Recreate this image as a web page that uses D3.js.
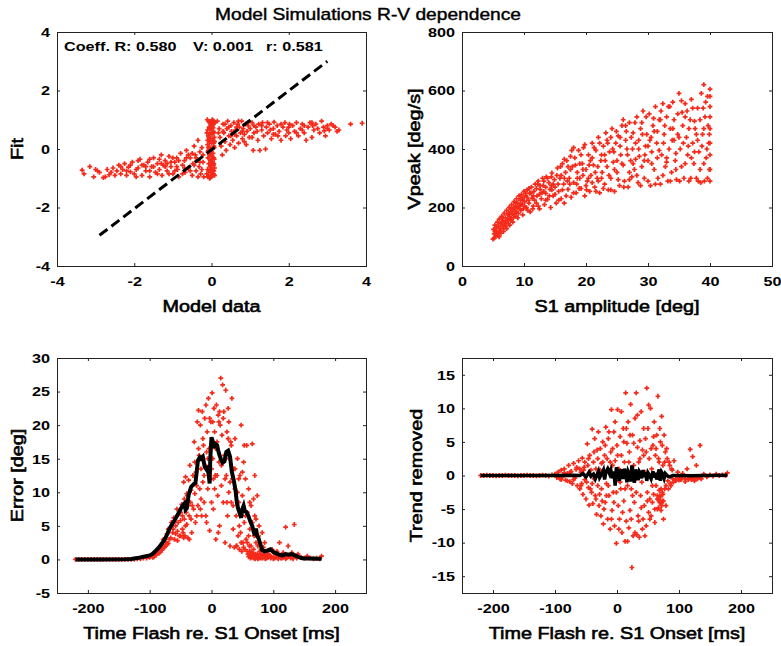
<!DOCTYPE html>
<html>
<head>
<meta charset="utf-8">
<script src="https://d3js.org/d3.v7.min.js"></script>
<style>
body { margin: 0; background: #fff; }
text { font-family: "Liberation Sans", Arial, Helvetica, sans-serif; fill: #000; }
</style>
</head>
<body>
<div id="fig"></div>
<script>
var W = 781, H = 646;
var red = '#f52a1a';
var stretch = 1.2; // glyphs in the source are wider than Liberation Sans

// ---- top left: model data vs fit ----
var fitTicks = [-4, -2, 0, 2, 4];
var fitLine = [[-2.9, -2.95], [3.0, 3.0]];
var fitPts = [
	[-3.35,-0.72],[-3.3,-0.85],[-3.15,-0.6],[-3.05,-0.95],[-2.95,-0.75],[-2.9,-0.8],[-2.8,-0.98],[-2.75,-0.95],
	[-2.6,-0.8],[-2.55,-0.65],[-2.5,-0.9],[-2.45,-0.75],[-2.4,-0.55],[-2.35,-0.85],[-2.3,-0.7],[-2.25,-0.5],
	[-2.2,-0.9],[-2.15,-0.62],[-2.1,-0.78],[-2.05,-0.45],[-2.0,-0.85],[-1.95,-0.95],[-1.9,-0.65],[-1.85,-0.35],
	[-1.8,-0.9],[-1.75,-0.55],[-1.7,-0.75],[-1.65,-0.45],[-1.6,-0.95],[-1.55,-0.6],[-1.5,-0.3],[-1.45,-0.8],
	[-1.4,-0.5],[-1.35,-0.7],[-1.3,-0.2],[-1.28,-0.9],[-1.25,-0.55],[-1.2,-0.4],[-1.15,-0.75],[-1.1,-0.25],
	[-1.05,-0.6],[-1.0,-0.85],[-0.95,-0.45],[-0.9,-0.3],[-0.88,-0.7],[-0.85,-0.95],[-0.8,-0.15],[-0.75,-0.55],
	[-0.7,-0.4],[-0.68,-0.8],[-0.65,-0.05],[-0.6,-0.65],[-0.55,-0.3],[-0.5,-0.9],[-0.48,-0.5],[-0.45,0.1],
	[-0.42,-0.2],[-0.4,-0.75],[-0.38,-0.4],[-0.35,0.3],[-0.32,-0.6],[-0.3,-0.1],[-0.28,-0.85],[-0.25,0.05],
	[-0.22,-0.45],[-0.2,-0.95],[-1.6,-0.35],[-1.2,-0.6],[-2.7,-0.7],[-1.9,-0.4],[-1.4,-0.85],[-0.6,-0.2],
	[-1.0,-0.3],[-0.9,-0.6],[-0.75,-0.85],[-1.7,-0.6],[-2.1,-0.55],[-1.3,-0.5],[-1.05,-0.45],[-0.55,-0.75],
	[-0.45,-0.55],[-0.35,-0.95],[-0.3,-0.45],
	[-3.0,-0.7],[-2.65,-0.88],[-2.35,-0.6],[-2.2,-0.75],[-1.95,-0.7],[-1.8,-0.55],[-1.6,-0.75],[-1.5,-0.6],
	[-1.35,-0.35],[-1.15,-0.5],[-1.1,-0.85],[-0.95,-0.75],[-0.85,-0.4],[-0.7,-0.65],[-0.65,-0.3],[-0.5,-0.15],
	[-0.4,-0.3],[-0.25,-0.7],[-0.22,-0.2],
	[-0.05,-1.0],[0.0,-0.95],[-0.08,-0.9],[0.03,-0.85],[-0.02,-0.8],[0.06,-0.75],[-0.1,-0.7],[0.0,-0.65],
	[-0.04,-0.6],[0.05,-0.55],[-0.07,-0.5],[0.02,-0.45],[-0.03,-0.4],[0.07,-0.35],[-0.09,-0.3],[0.01,-0.25],
	[-0.05,-0.2],[0.04,-0.15],[-0.01,-0.1],[-0.08,-0.05],[0.03,0.0],[-0.04,0.05],[0.06,0.1],[-0.1,0.15],
	[0.0,0.2],[-0.06,0.25],[0.04,0.3],[-0.02,0.35],[0.07,0.4],[-0.08,0.45],[0.01,0.5],[-0.04,0.55],
	[0.05,0.6],[-0.1,0.65],[0.0,0.7],[-0.06,0.75],[0.03,0.8],[-0.02,0.85],[0.08,0.9],[-0.07,0.95],
	[0.02,1.0],[-0.11,1.0],[0.05,0.97],[-0.03,-0.98],[0.06,-0.5],[-0.06,-0.15],[0.04,0.72],[-0.1,0.3],
	[0.0,-0.35],[0.07,0.05],[-0.05,0.9],[0.02,-0.7],[-0.12,-0.85],[0.08,-0.9],[-0.12,0.55],[0.08,0.25],
	[-0.1,-0.95],[0.05,-0.85],[-0.07,-0.75],[0.08,-0.65],[-0.03,-0.55],[0.06,-0.3],[-0.09,-0.1],[0.05,0.2],
	[-0.07,0.4],[0.06,0.55],[-0.04,0.7],[0.05,0.85],[-0.08,0.05],[0.01,0.95],[-0.01,-0.5],
	[0.15,0.95],[0.2,0.7],[0.22,0.4],[0.25,0.1],[0.28,-0.2],[0.3,0.85],[0.32,0.55],[0.35,0.25],
	[0.38,-0.05],[0.4,0.7],[0.42,0.95],[0.45,0.45],[0.48,0.15],[0.5,0.8],[0.52,0.6],[0.55,0.3],
	[0.58,0.9],[0.6,0.05],[0.62,0.65],[0.65,0.45],[0.68,0.85],[0.7,0.2],[0.72,0.75],[0.75,0.55],
	[0.78,0.95],[0.8,0.35],[0.82,0.7],[0.85,0.5],[0.88,0.85],[0.9,0.15],[0.92,0.6],[0.95,0.8],
	[0.98,0.4],[1.0,0.7],[1.05,0.9],[1.08,-0.05],[1.1,0.55],[1.15,0.75],[1.2,0.3],[1.22,0.85],
	[1.25,-0.05],[1.3,0.65],[1.32,0.9],[1.35,0.45],[1.4,0.0],[1.42,0.75],[1.45,0.55],[1.5,0.85],
	[1.55,0.35],[1.6,0.7],[1.62,0.92],[1.65,0.5],[1.7,0.8],[1.75,0.6],[1.8,0.3],[1.85,0.75],
	[1.9,0.9],[1.92,0.45],[1.95,0.65],[2.0,0.55],[2.05,0.35],[2.1,0.8],[2.15,0.6],[2.2,0.9],
	[2.25,0.45],[2.3,0.7],[2.35,0.85],[2.4,0.55],[2.45,0.3],[2.5,0.75],[2.55,0.9],[2.6,0.4],
	[2.65,0.65],[2.7,0.85],[2.8,0.55],[2.85,0.95],[2.9,0.75],[2.95,0.45],[3.0,0.8],[3.05,0.65],
	[3.1,0.85],[3.2,0.75],[3.25,0.6],[3.6,0.85],[3.9,0.88],[0.3,0.6],[0.45,0.75],[0.6,0.5],
	[0.7,0.95],[0.85,0.25],[1.05,0.4],[1.18,0.6],[1.52,0.65],[1.72,0.45],[2.02,0.85],[2.35,0.65],
	[2.62,0.8],[2.92,0.62],
	[0.18,0.55],[0.35,0.85],[0.5,0.45],[0.65,0.75],[0.8,0.6],[0.95,0.9],[1.1,0.8],[1.3,0.8],
	[1.45,0.9],[1.6,0.5],[1.8,0.85],[2.0,0.75],[2.2,0.55],[2.4,0.8],[2.6,0.9],[2.75,0.7],
	[3.0,0.7],[3.15,0.8],[3.3,0.65]
];

// ---- top right: S1 amplitude vs peak velocity ----
var ampTicks = [0, 10, 20, 30, 40, 50];
var vpeakTicks = [0, 200, 400, 600, 800];
var vpeakPts = [
	[5.0,92],[5.1,125],[5.2,110],[5.3,140],[5.4,100],[5.5,130],[5.6,118],[5.7,150],[5.8,105],[5.9,135],
	[6.0,160],[6.1,122],[6.2,145],[6.3,112],[6.4,170],[6.5,138],[6.6,155],[6.7,128],[6.8,180],[6.9,150],
	[7.0,165],[7.1,135],[7.2,190],[7.3,158],[7.4,175],[7.5,145],[7.6,200],[7.7,170],[7.8,185],[7.9,155],
	[8.0,210],[8.1,178],[8.2,195],[8.3,165],[8.4,220],[8.5,188],[8.6,205],[8.7,170],[8.8,230],[8.9,198],
	[9.0,215],[9.1,180],[9.2,240],[9.3,205],[9.4,225],[9.5,190],[9.6,245],[9.7,212],[9.8,232],[9.9,195],
	[10.0,255],[10.1,220],[10.2,240],[10.4,200],[10.5,260],[10.7,225],[10.9,248],[11.0,185],[11.2,270],[11.3,232],
	[11.5,205],[11.6,255],[11.8,280],[12.0,215],[12.1,240],[12.3,290],[12.5,195],[12.6,262],[12.8,230],[13.0,300],
	[13.1,275],[13.3,210],[13.5,248],[13.6,305],[13.8,228],[14.0,285],[14.2,262],[14.3,200],[14.5,318],[14.7,240],
	[14.9,295],[15.0,270],[15.2,215],[15.4,335],[15.6,255],[15.8,300],[16.0,230],[16.2,350],[16.4,280],[16.5,215],
	[16.7,320],[16.9,360],[17.1,262],[17.3,300],[17.5,375],[17.6,235],[17.8,340],[18.0,285],[18.2,370],[18.4,250],
	[18.6,320],[18.8,395],[19.0,300],[19.2,265],[19.4,350],[19.6,405],[19.8,240],[20.0,330],[20.2,290],[20.4,380],
	[20.6,255],[20.8,310],[21.0,420],[21.2,345],[21.4,270],[21.6,395],[21.8,300],[22.0,440],[22.2,250],[22.4,360],
	[22.6,320],[22.8,410],[23.0,280],[23.2,455],[23.4,340],[23.6,260],[23.8,390],[24.0,300],[24.2,470],[24.4,355],
	[24.6,255],[24.8,420],[25.0,320],[25.2,445],[25.4,275],[25.6,380],[25.8,480],[26.0,345],[26.2,290],[26.4,430],
	[26.6,400],[26.8,270],[27.0,490],[27.2,360],[27.4,305],[27.6,455],[27.8,330],[28.0,420],[28.2,510],[28.4,285],
	[28.6,375],[28.8,470],[29.0,340],[29.2,530],[29.4,300],[29.6,410],[29.8,450],[30.0,360],[30.2,520],[30.4,275],
	[30.6,390],[30.8,480],[31.0,330],[31.2,545],[31.4,420],[31.6,300],[31.8,500],[32.0,280],[32.2,380],[32.4,555],
	[32.6,450],[32.8,340],[33.0,510],[33.2,290],[33.4,400],[33.6,470],[33.8,320],[34.0,560],[34.2,430],[34.4,360],
	[34.6,295],[34.8,520],[35.0,590],[35.2,400],[35.4,340],[35.6,480],[35.8,300],[36.0,555],[36.2,440],[36.4,380],
	[36.6,290],[36.8,500],[37.0,570],[37.2,420],[37.4,350],[37.6,470],[37.8,300],[38.0,540],[38.2,390],[38.4,330],
	[38.6,590],[38.8,450],[39.0,620],[39.1,290],[39.2,510],[39.4,370],[39.6,580],[39.8,420],[39.9,330],[40.0,545],
	[40.0,605],[39.7,480],[38.5,285],[37.5,495],[36.5,410],[35.5,525],[34.5,385],[33.5,545],[32.5,420],[31.5,370],
	[30.5,440],[29.5,380],[28.5,430],[27.5,400],[26.5,460],[25.5,410],[24.5,390],[23.5,420],[22.5,380],[21.5,320],
	[20.5,345],[19.5,310],[18.5,280],[17.5,330],[16.5,300],[15.5,280],[14.5,260],[13.5,270],[12.5,245],[11.5,240],
	[10.5,235],[9.5,210],[8.5,200],[7.5,180],[6.5,165],[5.5,115],[5.2,95],[6.0,100],[6.8,140],[7.8,160],
	[8.8,185],[9.8,225],[10.8,265],[12.2,280],[13.2,255],[14.4,275],[16.0,310],[17.0,290],[18.0,405],[19.0,350],
	[20.0,275],[21.0,370],[22.0,290],[23.0,380],[24.0,440],[25.0,360],[26.0,500],[27.0,320],[28.0,365],[29.0,490],
	[30.0,410],[31.0,460],[32.0,500],[33.0,370],[34.0,470],[35.0,440],[36.0,510],[37.0,370],[38.0,430],[39.0,470],
	[40.0,380],[40.0,420],[40.0,470],[40.0,330],[40.0,580],
	[5.3,118],[5.6,135],[5.9,112],[6.2,128],[6.5,150],[6.7,118],[7.0,148],[7.2,128],[7.4,160],[7.7,140],
	[7.9,195],[8.2,150],[8.4,178],[8.7,215],[9.0,165],[9.2,198],[9.5,230],[9.8,175],[10.1,205],[10.3,248],
	[10.6,190],[10.8,215],[11.1,250],[11.4,195],[11.7,225],[12.0,265],[12.3,205],[12.6,275],[12.9,250],[13.2,290],
	[13.5,225],[13.8,300],[14.1,240],[14.4,305],[14.7,280],[15.0,245],[15.3,310],[15.6,225],[15.9,340],[16.2,260],
	[16.5,365],[16.8,240],[17.1,340],[17.4,280],[17.7,395],[18.0,250],[18.3,345],[18.6,300],[18.9,265],[19.2,380],
	[19.5,330],[19.8,415],[20.1,260],[20.4,300],[20.7,360],[21.0,285],[21.3,405],[21.6,255],[21.9,340],[22.2,420],
	[22.5,300],[22.8,265],[23.1,360],[23.4,430],[23.7,310],[24.0,260],[24.3,400],[24.6,330],[24.9,460],[25.2,295],
	[25.5,440],[25.8,350],[26.1,270],[26.4,480],[26.7,380],[27.0,295],[27.3,440],[27.6,350],[27.9,490],[28.2,310],
	[28.5,400],[28.8,275],[29.1,450],[29.4,360],[29.7,510],[30.0,290],[30.3,430],[30.6,350],[30.9,505],[31.2,280],
	[31.5,460],[31.8,395],[32.1,530],[32.4,310],[32.7,480],[33.0,355],[33.3,545],[33.6,290],[33.9,430],[34.2,500],
	[34.5,330],[34.8,450],[35.1,290],[35.4,565],[35.7,420],[36.0,350],[36.3,530],[36.6,470],[36.9,300],[37.2,540],
	[37.5,390],[37.8,450],[38.1,290],[38.4,500],[38.7,410],[39.0,350],[39.3,560],[39.6,300],[39.9,450],[40.0,510],
	[40.0,290],[39.5,400],[38.9,540]
];

// ---- bottom left: error vs flash time ----
var timeTicks = [-200, -100, 0, 100, 200];
var errTicks = [-5, 0, 5, 10, 15, 20, 25, 30];
var errPts = [
	[-220,0],[-215,0],[-210,0],[-205,0],[-200,0],[-195,0],[-190,0],[-185,0],[-180,0],[-175,0],[-170,0],[-165,0],
	[-160,0],[-155,0],[-150,0],[-145,0],[-140,0],[-135,0],[-130,0],[-125,0.05],[-120,0.1],[-115,0.1],[-110,0.2],[-105,0.2],
	[-100,0.3],[-98,0.5],[-95,0.8],[-93,0.4],[-90,1.2],[-88,0.9],[-85,1.6],[-83,1.1],[-80,2.2],[-78,3.0],
	[-76,1.8],[-74,2.6],[-72,3.8],[-70,2.4],[-68,4.5],[-66,3.2],[-65,5.5],[-63,4.0],[-61,6.2],[-60,3.0],
	[-58,5.0],[-56,7.5],[-55,4.2],[-53,6.8],[-52,3.5],[-50,5.8],[-48,8.2],[-47,4.5],[-45,11.5],[-44,6.0],
	[-43,3.5],[-42,12.3],[-41,7.0],[-40,5.2],[-39,9.5],[-38,3.2],[-37,11.8],[-36,6.5],[-35,14.0],[-34,8.5],
	[-33,10.3],[-32,4.0],[-30,12.5],[-29,7.5],[-28,17.5],[-27,9.8],[-26,5.5],[-25,13.0],[-24,11.0],[-23,20.5],
	[-22,8.0],[-21,22.2],[-20,15.5],[-19,10.5],[-18,20.0],[-17,13.5],[-16,6.5],[-15,22.0],[-14,11.5],[-13,17.0],
	[-12,8.5],[-11,21.0],[-10,14.0],[-9,23.0],[-8,5.5],[-7,19.0],[-6,10.5],[-5,24.0],[-4,16.5],[-3,4.3],
	[-2,12.0],[-1,20.5],[0,8.5],[1,24.8],[2,15.0],[3,7.5],[4,22.5],[5,19.0],[6,12.5],[7,3.0],
	[8,23.0],[9,17.5],[10,9.5],[11,21.5],[12,14.5],[13,5.0],[14,20.0],[15,27.0],[16,11.0],[17,18.5],
	[18,26.0],[19,8.5],[20,22.0],[21,15.5],[22,2.5],[23,25.2],[24,12.5],[25,19.0],[26,6.5],[27,22.5],
	[28,10.0],[29,15.0],[30,2.0],[31,17.5],[32,8.5],[33,24.0],[34,12.0],[35,4.5],[36,13.5],[37,1.8],
	[38,10.5],[40,6.5],[41,2.0],[42,15.0],[43,3.5],[44,8.5],[45,1.5],[46,12.5],[47,4.0],[48,20.0],
	[49,1.2],[50,9.5],[51,2.5],[52,14.5],[53,5.5],[54,1.5],[55,12.0],[56,3.0],[57,17.0],[58,7.0],
	[59,0.8],[60,10.5],[61,2.0],[62,4.5],[63,0.5],[64,8.0],[65,1.0],[66,17.2],[67,0.5],[68,9.0],
	[69,3.5],[70,12.5],[71,0.8],[72,6.0],[73,0.3],[74,9.5],[75,2.0],[76,0.5],[77,5.0],[78,1.2],
	[79,0.3],[80,1.5],[81,0.6],[82,4.0],[83,0.2],[85,0.8],[86,2.5],[88,0.4],[90,1.0],[92,0.3],
	[94,0.6],[96,0.2],[98,1.5],[100,0.4],[102,0.2],[104,0.7],[106,1.2],[108,0.3],[110,2.5],[112,0.5],
	[114,0.2],[116,1.0],[118,0.4],[120,4.8],[122,0.3],[124,2.0],[126,0.6],[128,0.2],[130,1.0],[132,0.3],
	[134,5.2],[136,0.5],[138,0.2],[140,0.8],[145,0.3],[150,0.2],[155,0.5],[160,0.2],[165,0.1],[170,0.2],
	[175,0.1],[178,0.5],[65,0.3],[68,0.2],[72,0.4],[75,0.1],[78,0.6],[80,0.2],[84,0.5],[87,0.1],
	[90,0.3],[93,0.5],[70,0.2],[66,0.6],[62,1.2],[58,2.5],[-60,5.6],[-55,2.8],[-45,3.2],[-42,5.0],
	[-50,3.5],[-47,6.5],[-38,8.0],[-33,6.0],[-18,7.5],[-8,16.0],[3,12.0],[12,20.5],[27,18.0],[38,18.0],
	[44,12.0],[53,17.0],[-64,5.0],[-70,4.5],[-80,1.6],
	[-62,4.5],[-58,3.8],[-54,5.5],[-50,7.0],[-46,4.0],[-44,9.0],[-40,9.8],[-36,3.0],[-31,8.0],[-27,14.5],
	[-24,6.5],[-21,16.5],[-17,9.0],[-14,18.0],[-12,12.5],[-9,6.5],[-6,15.0],[-3,21.0],[0,13.5],[2,20.5],
	[5,10.5],[7,16.5],[9,12.5],[11,4.0],[13,22.0],[16,14.0],[19,21.0],[22,12.0],[25,8.5],[28,20.5],
	[30,11.5],[32,17.0],[35,8.0],[38,13.5],[40,2.0],[42,10.0],[45,5.0],[48,2.5],[50,13.0],[52,1.8],
	[55,6.5],[58,1.2],[60,3.5],[62,8.5],[64,2.0],[66,5.5],[68,1.5],[70,6.5],[72,2.5],[74,0.8],
	[76,3.5],[78,0.4],[80,0.9],[82,0.3],[84,1.8],[60,0.4],[63,0.2],[67,0.9],[71,0.1],[74,0.5],
	[77,0.2],[86,0.5],[89,0.2],[92,0.8],[96,0.4],[100,0.1],[104,0.3],[108,0.1],[112,0.2],[116,0.3],
	[120,0.1],[124,0.4],[128,0.6],[132,0.1],[-95,0.3],[-90,0.6],[-85,0.9],[-80,1.4],[-75,2.0],[-72,2.2],
	[-68,3.0]
];
var errMean = [
	[-220,0],[-180,0],[-140,0.02],[-130,0.05],[-120,0.2],[-110,0.4],[-100,0.6],[-95,0.85],[-90,1.3],[-85,1.8],
	[-80,2.4],[-75,3.1],[-71,3.9],[-68,4.6],[-64,5.2],[-60,5.8],[-55,6.6],[-50,7.5],[-47,8.0],[-44,8.3],
	[-42,7.4],[-40,7.6],[-37,9.6],[-33,10.8],[-29,11.2],[-26,11.4],[-24,13.0],[-22,14.7],[-19,15.2],[-17,15.0],
	[-14,15.3],[-11,13.8],[-8,13.4],[-6,13.6],[-4,12.2],[-3,11.3],[-2,15.0],[0,18.2],[2,17.6],[4,16.6],
	[6,17.2],[9,17.0],[12,15.8],[15,15.0],[18,14.4],[21,14.6],[24,16.0],[27,16.2],[30,15.3],[33,13.0],
	[36,11.8],[39,10.2],[41,8.5],[43,7.6],[46,6.8],[48,6.2],[50,7.5],[52,8.0],[54,7.2],[57,7.0],
	[60,6.4],[63,5.6],[66,5.0],[68,4.2],[70,3.6],[72,4.6],[74,3.4],[76,3.2],[78,2.6],[80,2.0],
	[82,1.4],[86,1.2],[90,1.3],[95,1.5],[100,1.1],[105,0.9],[110,0.7],[115,0.6],[120,0.8],[125,0.7],
	[130,0.8],[135,0.6],[140,0.4],[145,0.2],[150,0.15],[160,0.15],[170,0.1],[178,0.1]
];

// ---- bottom right: trend removed ----
var trendTicks = [-15, -10, -5, 0, 5, 10, 15];
var trendPts = [
	[-220,0],[-215,0],[-210,0.05],[-205,0],[-200,0],[-195,-0.05],[-190,0],[-185,0],[-180,0.05],[-175,0],[-170,0],[-165,0],
	[-160,-0.05],[-155,0],[-150,0],[-145,0.05],[-140,0],[-135,0],[-130,-0.05],[-125,0],[-120,0.05],[-115,0],[-110,-0.1],[-105,0.1],
	[-100,0.2],[-97,-0.3],[-95,0.5],[-92,-0.5],[-90,0.8],[-88,-0.2],[-85,1.0],[-83,-0.7],[-80,0.3],[-78,1.5],
	[-76,-0.9],[-74,0.6],[-72,-1.2],[-70,1.8],[-68,-0.4],[-66,0.9],[-64,-1.5],[-62,2.2],[-60,-2.0],[-58,0.5],
	[-56,2.6],[-55,-2.8],[-53,1.2],[-52,-0.6],[-50,-3.5],[-48,4.7],[-47,1.5],[-46,-1.8],[-45,-4.4],[-44,3.0],
	[-42,0.8],[-41,-2.5],[-40,6.9],[-39,-4.2],[-38,2.0],[-37,-0.5],[-36,5.5],[-35,-3.0],[-34,1.0],[-33,-5.8],
	[-32,3.8],[-31,-1.5],[-30,6.5],[-29,0.5],[-28,-2.8],[-27,4.0],[-26,-6.0],[-25,1.8],[-24,-3.8],[-23,5.0],
	[-22,-7.2],[-21,0.2],[-20,3.0],[-19,-4.0],[-18,7.2],[-17,-1.2],[-16,2.5],[-15,-6.5],[-14,5.5],[-13,-3.0],
	[-12,0.8],[-11,-8.0],[-10,3.5],[-9,9.8],[-8,-5.2],[-7,1.5],[-6,-2.5],[-5,6.5],[-4,-7.5],[-3,2.2],
	[-2,-0.8],[-1,-10.1],[0,4.5],[1,9.8],[2,-4.5],[3,1.0],[4,-6.5],[5,5.8],[6,-2.0],[7,3.0],
	[8,-8.5],[9,0.5],[10,7.0],[11,-3.8],[12,2.0],[13,-9.8],[14,12.3],[15,-6.8],[16,4.8],[17,-1.5],
	[18,8.0],[19,-7.8],[20,3.5],[21,-5.2],[22,10.6],[23,-2.0],[24,-13.7],[25,6.0],[26,-9.0],[27,1.5],
	[28,-4.0],[29,8.5],[30,-0.5],[31,12.3],[32,-8.8],[33,4.2],[34,-6.0],[35,2.0],[36,-9.2],[37,5.2],
	[38,-3.0],[39,9.5],[40,-1.0],[41,3.8],[42,-6.5],[43,7.0],[44,-4.5],[45,0.5],[46,5.5],[47,-7.5],
	[48,13.0],[49,-2.5],[50,7.0],[51,-5.5],[52,2.5],[53,-3.5],[54,10.0],[55,-6.0],[56,1.0],[57,-4.0],
	[58,4.5],[59,-2.8],[60,8.0],[61,-5.0],[62,3.0],[63,-1.5],[64,6.0],[65,-3.5],[66,11.8],[67,-4.8],
	[68,2.0],[69,-3.0],[70,5.0],[71,-4.2],[72,8.8],[73,-2.5],[74,1.5],[75,-3.8],[76,6.0],[77,-2.0],
	[78,3.5],[79,-1.5],[80,4.0],[82,-0.8],[84,2.0],[86,-1.2],[88,1.0],[90,-0.5],[92,2.2],[95,-0.8],
	[98,0.5],[100,-0.3],[103,-0.6],[106,0.3],[110,-0.5],[113,1.0],[116,-0.4],[118,3.9],[120,-0.6],[122,2.8],
	[125,-0.5],[128,1.5],[130,-0.3],[134,4.5],[136,-0.5],[140,0.2],[145,-0.2],[150,0.1],[155,-0.1],[160,0.2],
	[165,0.0],[170,0.1],[175,0.0],[178,0.4],
	[65,-3.0],[67,-3.6],[69,-4.0],[70,-3.2],[72,-4.5],[73,-3.8],[74,-2.8],[71,-5.2],[68,-2.2],
	[95,-0.5],[100,-0.7],[105,-0.4],[110,-0.9],[115,-0.6],[120,-0.3],[125,-0.8],[130,-0.5],[135,-0.4],
	[-90,-0.6],[-85,0.4],[-80,-0.8],[-75,0.5],[-70,-0.6],[-65,1.2],[-58,-1.5],[-52,2.0],
	[-60,1.0],[-57,-1.2],[-54,0.8],[-49,-1.0],[-46,2.5],[-43,-2.0],[-40,-1.2],[-37,3.5],[-34,-3.5],[-31,2.5],
	[-29,-4.5],[-27,0.8],[-25,-2.0],[-23,2.0],[-21,-5.0],[-19,4.5],[-17,-3.0],[-14,-1.5],[-13,6.5],[-11,2.0],
	[-9,-6.5],[-7,4.0],[-5,-4.0],[-3,8.0],[-1,-2.5],[1,3.0],[3,-8.0],[5,-1.0],[7,9.5],[9,-5.5],
	[11,5.0],[13,-2.0],[15,7.0],[17,-9.8],[19,2.0],[21,6.0],[23,-6.5],[25,-3.0],[27,4.8],[29,-8.5],
	[31,-2.5],[33,9.0],[35,-6.8],[37,2.5],[39,-4.8],[41,-8.0],[43,3.0],[45,-9.0],[47,3.5],[49,-3.8],
	[51,10.5],[53,-6.5],[55,4.0],[57,-1.5],[59,5.8],[61,-7.0],[63,4.0],[65,-5.0],[67,2.5],[69,7.0],
	[71,-2.0],[73,4.5],[75,-6.5],[77,2.0],[79,-4.5],[81,2.5],[83,-2.0],[85,1.5],[87,-1.5],[89,0.8],
	[91,-1.0]
];
var trendMean = [
	[-220,0],[-100,0],[-70,0.05],[-60,0],[-55,0.3],[-50,-0.2],[-45,0.5],[-42,-0.1],[-38,0.2],[-35,-0.5],
	[-30,0.6],[-28,-0.3],[-25,0.2],[-22,0.8],[-20,-0.6],[-18,0.5],[-15,1.0],[-12,0.3],[-10,0.8],[-8,-0.4],
	[-5,0.6],[-3,-1.5],[-1,1.2],[2,0.4],[4,-0.8],[6,0.9],[8,0.2],[10,-0.5],[12,1.0],[14,0.4],
	[16,-1.0],[18,0.6],[20,0.2],[22,-0.9],[24,1.5],[26,0.4],[28,-1.1],[30,0.9],[32,0.2],[34,-0.7],
	[36,0.6],[38,0.3],[40,-0.4],[42,0.8],[44,-0.2],[46,0.5],[48,-0.8],[50,0.4],[52,0.1],[55,-0.5],
	[58,0.6],[60,-0.3],[62,0.4],[64,-0.6],[66,0.2],[68,0.9],[70,-0.8],[72,0.5],[74,0.2],[76,-0.4],
	[78,0.3],[80,0.1],[82,-0.1],[85,-0.2],[90,0],[100,0],[120,-0.05],[140,0],[178,0.05]
];

// Panel boxes (pixels)
var boxes = {
	tl: { left: 57, right: 366, top: 32, bottom: 266 },
	tr: { left: 462, right: 772, top: 32, bottom: 266 },
	bl: { left: 57, right: 366, top: 358, bottom: 593 },
	br: { left: 462, right: 772, top: 358, bottom: 593 }
};

var svg = d3.select('#fig')
	.append('svg')
	.attr('width', W)
	.attr('height', H);

svg.append('rect').attr('width', W).attr('height', H).attr('fill', '#fff');

// text stretched sideways, with a thin outline so it reads as heavy as the source
function wideText(sel, x, y, str, size, weight, anchor, rot, outline) {
	var t = sel.append('text')
		.attr('transform', 'translate(' + x + ',' + y + ')' + (rot ? ' rotate(' + rot + ')' : '') + ' scale(' + stretch + ',1)')
		.attr('font-size', size + 'px')
		.attr('font-weight', weight)
		.attr('text-anchor', anchor)
		.attr('stroke', outline ? '#000' : null)
		.attr('stroke-width', outline || null)
		.text(str);
	return t;
}

function panel(box, xDom, yDom, xTicks, yTicks, xLabel, yLabel, yLabelX) {
	var x = d3.scaleLinear().domain(xDom).range([box.left, box.right]);
	var y = d3.scaleLinear().domain(yDom).range([box.bottom, box.top]);
	var g = svg.append('g');
	var fmt = function(d) { return String(d); };

	var axes = g.append('g').attr('class', 'axes');
	axes.append('g')
		.attr('transform', 'translate(0,' + box.bottom + ')')
		.call(d3.axisBottom(x).tickValues(xTicks).tickSizeInner(-3).tickSizeOuter(0).tickPadding(10.8).tickFormat(fmt));
	axes.append('g')
		.attr('transform', 'translate(0,' + box.top + ')')
		.call(d3.axisTop(x).tickValues(xTicks).tickSizeInner(-3).tickSizeOuter(0).tickFormat(''));
	axes.append('g')
		.attr('transform', 'translate(' + box.left + ',0)')
		.call(d3.axisLeft(y).tickValues(yTicks).tickSizeInner(-3).tickSizeOuter(0).tickPadding(5.8).tickFormat(fmt));
	axes.append('g')
		.attr('transform', 'translate(' + box.right + ',0)')
		.call(d3.axisRight(y).tickValues(yTicks).tickSizeInner(-3).tickSizeOuter(0).tickFormat(''));
	axes.selectAll('.domain').remove();
	axes.selectAll('.tick line').attr('stroke', '#222').attr('stroke-width', 1);
	axes.selectAll('.tick text')
		.attr('font-family', '"Liberation Sans", Arial, sans-serif')
		.attr('font-size', '13.5px')
		.attr('font-weight', 'bold')
		.attr('fill', '#000')
		.attr('transform', 'scale(' + stretch + ',1)');

	g.append('rect')
		.attr('x', box.left + 0.5).attr('y', box.top + 0.5)
		.attr('width', box.right - box.left).attr('height', box.bottom - box.top)
		.attr('fill', 'none').attr('stroke', '#222').attr('stroke-width', 1);

	wideText(g, (box.left + box.right) / 2, box.bottom + 46, xLabel, 16.5, 'normal', 'middle', 0, 0.6);
	wideText(g, yLabelX, (box.top + box.bottom) / 2, yLabel, 16.5, 'normal', 'middle', -90, 0.6);

	return { x: x, y: y, g: g };
}

function scatter(p, pts) {
	p.g.append('g')
		.selectAll('path')
		.data(pts)
		.enter()
		.append('path')
		.attr('d', function(d) {
			var cx = p.x(d[0]), cy = p.y(d[1]);
			return 'M' + (cx - 2.4) + ',' + cy + 'H' + (cx + 2.4) + 'M' + cx + ',' + (cy - 2.4) + 'V' + (cy + 2.4);
		})
		.attr('stroke', red)
		.attr('stroke-width', 1.7)
		.attr('fill', 'none');
}

function meanLine(p, pts, w, dash) {
	var line = d3.line()
		.x(function(d) { return p.x(d[0]); })
		.y(function(d) { return p.y(d[1]); });
	p.g.append('path')
		.datum(pts)
		.attr('d', line)
		.attr('fill', 'none')
		.attr('stroke', '#000')
		.attr('stroke-width', w)
		.attr('stroke-linejoin', 'miter')
		.attr('stroke-dasharray', dash || null);
}

// top left
var p1 = panel(boxes.tl, [-4, 4], [-4, 4], fitTicks, fitTicks, 'Model data', 'Fit', 23);
scatter(p1, fitPts);
meanLine(p1, fitLine, 3, '10,5');
wideText(p1.g, 64, 51, 'Coeff. R: 0.580', 13.5, 'bold', 'start');
wideText(p1.g, 193, 51, 'V: 0.001', 13.5, 'bold', 'start');
wideText(p1.g, 266, 51, 'r: 0.581', 13.5, 'bold', 'start');

// top right
var p2 = panel(boxes.tr, [0, 50], [0, 800], ampTicks, vpeakTicks, 'S1 amplitude [deg]', 'Vpeak [deg/s]', 420);
scatter(p2, vpeakPts);

// bottom left
var p3 = panel(boxes.bl, [-250, 250], [-5, 30], timeTicks, errTicks, 'Time Flash re. S1 Onset [ms]', 'Error [deg]', 23);
scatter(p3, errPts);
meanLine(p3, errMean, 4);

// bottom right
var p4 = panel(boxes.br, [-250, 250], [-17.5, 17.5], timeTicks, trendTicks, 'Time Flash re. S1 Onset [ms]', 'Trend removed', 422);
scatter(p4, trendPts);
meanLine(p4, trendMean, 3.5);

// figure title
wideText(svg, 368, 20, 'Model Simulations R-V dependence', 16, 'normal', 'middle', 0, 0.4);
</script>
</body>
</html>
